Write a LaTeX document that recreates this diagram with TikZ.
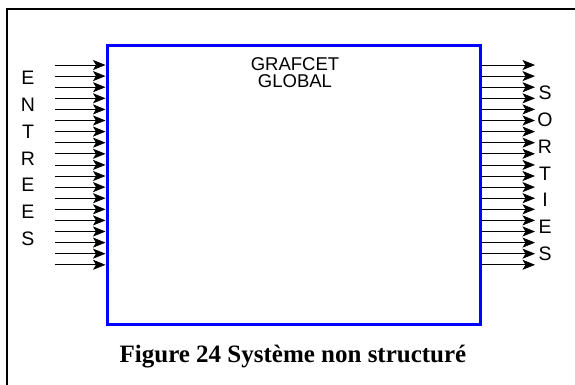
\documentclass[tikz,border=0pt]{standalone}
\usepackage{fontspec}
\setmainfont{Liberation Sans}
\newfontfamily\capfont{Liberation Serif}
\usetikzlibrary{arrows.meta}
\begin{document}
\begin{tikzpicture}[x=1pt,y=-1pt,
  sigline/.style={line width=0.7pt,-{Stealth[length=12.5pt,width=10pt,inset=3pt]}},
  letter/.style={font=\fontsize{19.5}{19.5}\selectfont,inner sep=0pt,anchor=center},
  bigbox/.style={draw=blue,line width=3pt},
  frame/.style={line width=2pt}]
\useasboundingbox (0,0) rectangle (575,384);
\draw[frame] (7,395) -- (7,9) -- (590,9);
\node[bigbox,minimum width=373pt,minimum height=279pt,inner sep=0pt] (box) at (293.5,185) {};
\node[font=\fontsize{18.5}{17.5}\selectfont,align=center,anchor=north] (title) at (295,54) {GRAFCET\\GLOBAL};
\foreach \i in {0,...,18}{
  \coordinate (ls\i) at (55,{65+11.1*\i});
  \coordinate (le\i) at (box.west |- ls\i);
  \draw[sigline] (ls\i) -- (le\i);
  \coordinate (rs\i) at (box.east |- ls\i);
  \coordinate (re\i) at (535,{65+11.1*\i});
  \draw[sigline] (rs\i) -- (re\i);
}
\foreach \c [count=\k from 0] in {E,N,T,R,E,E,S}{
  \node[letter] (in\k) at (28,{78+26.8*\k}) {\c};
}
\foreach \c [count=\k from 0] in {S,O,R,T,I,E,S}{
  \node[letter] (out\k) at (545,{93+26.8*\k}) {\c};
}
\node[font=\capfont\bfseries\fontsize{25}{25}\selectfont,anchor=center] (cap) at (293,357) {Figure 24 Système non structuré};
\end{tikzpicture}
\end{document}
